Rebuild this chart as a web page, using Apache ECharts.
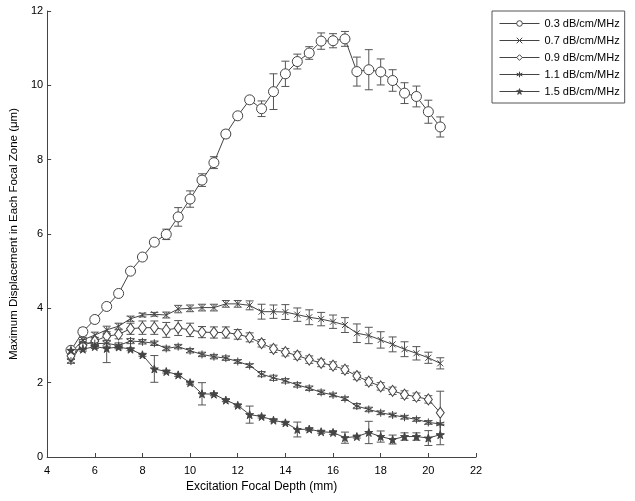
<!DOCTYPE html>
<html>
<head>
<meta charset="utf-8">
<script src="https://cdn.jsdelivr.net/npm/echarts@6/dist/echarts.min.js"></script>
<style>
html,body{margin:0;padding:0;background:#fff;}
#c{width:635px;height:501px;}
</style>
</head>
<body>
<div id="c"></div>
<script>
const depths = [5,5.5,6,6.5,7,7.5,8,8.5,9,9.5,10,10.5,11,11.5,12,12.5,13,13.5,14,14.5,15,15.5,16,16.5,17,17.5,18,18.5,19,19.5,20,20.5];

const seriesNames = ['0.3 dB/cm/MHz','0.7 dB/cm/MHz','0.9 dB/cm/MHz','1.1 dB/cm/MHz','1.5 dB/cm/MHz'];

const att03 = [2.87,3.37,3.70,4.05,4.40,5.00,5.38,5.78,5.99,6.46,6.94,7.45,7.92,8.69,9.18,9.61,9.37,9.83,10.31,10.64,10.87,11.19,11.20,11.25,10.37,10.42,10.36,10.13,9.79,9.70,9.29,8.88];
const att03Err = [0.08,0.1,0.08,0.06,0.06,0.06,0.06,0.08,0.14,0.25,0.22,0.17,0.16,0.1,0.07,0.08,0.21,0.48,0.34,0.2,0.17,0.22,0.19,0.2,0.39,0.54,0.35,0.29,0.28,0.28,0.31,0.27];

const att07 = [2.80,3.15,3.28,3.42,3.52,3.72,3.82,3.84,3.82,3.98,4.00,4.02,4.02,4.12,4.12,4.08,3.91,3.91,3.90,3.83,3.76,3.71,3.64,3.55,3.33,3.27,3.15,3.03,2.90,2.79,2.67,2.52];
const att07Err = [0.05,0.07,0.08,0.1,0.08,0.07,0.05,0.05,0.08,0.1,0.09,0.09,0.09,0.09,0.09,0.12,0.2,0.18,0.2,0.18,0.2,0.18,0.18,0.2,0.25,0.22,0.22,0.2,0.2,0.18,0.15,0.15];

const att09 = [2.72,3.00,3.12,3.25,3.30,3.45,3.48,3.48,3.42,3.47,3.42,3.36,3.35,3.35,3.30,3.22,3.06,2.91,2.82,2.73,2.62,2.53,2.46,2.35,2.18,2.03,1.90,1.78,1.68,1.62,1.55,1.19];
const att09Err = [0.08,0.1,0.1,0.12,0.12,0.15,0.18,0.18,0.2,0.2,0.18,0.15,0.15,0.15,0.13,0.12,0.1,0.1,0.1,0.1,0.1,0.1,0.1,0.1,0.1,0.1,0.1,0.1,0.1,0.1,0.1,0.58];

const att11 = [2.58,3.08,3.05,3.06,3.00,3.12,3.10,3.06,2.92,2.97,2.86,2.76,2.70,2.66,2.57,2.46,2.23,2.13,2.05,1.94,1.85,1.74,1.67,1.57,1.37,1.28,1.19,1.13,1.07,1.01,0.93,0.89];
const att11Err = [0.06,0.08,0.08,0.08,0.07,0.07,0.06,0.06,0.06,0.06,0.06,0.06,0.06,0.06,0.05,0.05,0.07,0.07,0.06,0.06,0.06,0.06,0.05,0.05,0.07,0.06,0.05,0.05,0.05,0.05,0.05,0.03];

const att15 = [2.87,2.90,2.97,2.92,2.96,2.90,2.75,2.37,2.30,2.21,2.00,1.70,1.69,1.53,1.39,1.14,1.09,0.99,0.92,0.74,0.75,0.68,0.66,0.52,0.55,0.66,0.55,0.47,0.55,0.55,0.51,0.60];
const att15Err = [0.05,0.05,0.05,0.38,0.05,0.04,0.04,0.36,0.04,0.04,0.04,0.3,0.04,0.04,0.04,0.23,0.04,0.04,0.04,0.2,0.04,0.04,0.05,0.15,0.04,0.3,0.15,0.12,0.1,0.1,0.2,0.27];

const xTicks = [4,6,8,10,12,14,16,18,20,22];
const yTicks = [0,2,4,6,8,10,12];

const values = [att03, att07, att09, att11, att15];
const errors = [att03Err, att07Err, att09Err, att11Err, att15Err];

const symbols = [
  {symbol:'path://M10,5A5,5,0,1,1,0,5A5,5,0,1,1,10,5Z', size:10, fill:'#fff'},
  {symbol:'path://M0,0L10,10M10,0L0,10', size:6, fill:'#444'},
  {symbol:'path://M5,0L10,6L5,12L0,6Z', size:[8,11], fill:'#fff'},
  {symbol:'path://M5,0L5,10M0.7,2.5L9.3,7.5M0.7,7.5L9.3,2.5', size:8, fill:'#444'},
  {symbol:'path://M5,0L6.2,3.6L10,3.6L6.9,5.9L8.1,9.5L5,7.3L1.9,9.5L3.1,5.9L0,3.6L3.8,3.6Z', size:8, fill:'#444'}
];

const lineColor = '#444';
const series = [];

values.forEach(function(vals, i){
  const errData = depths.map(function(d, k){ return [d, vals[k], errors[i][k]]; });
  series.push({
    type:'custom',
    name: seriesNames[i] + ' err',
    z: 1,
    silent: true,
    data: errData,
    renderItem: function(params, api){
      const x = api.value(0), y = api.value(1), e = api.value(2);
      const top = api.coord([x, y + e]);
      const bot = api.coord([x, y - e]);
      const w = 4;
      const st = {stroke:'#555', lineWidth:1};
      return {
        type:'group',
        children:[
          {type:'line', shape:{x1:top[0], y1:top[1], x2:bot[0], y2:bot[1]}, style:st},
          {type:'line', shape:{x1:top[0]-w, y1:top[1], x2:top[0]+w, y2:top[1]}, style:st},
          {type:'line', shape:{x1:bot[0]-w, y1:bot[1], x2:bot[0]+w, y2:bot[1]}, style:st}
        ]
      };
    }
  });
});

values.forEach(function(vals, i){
  series.push({
    type:'line',
    name: seriesNames[i],
    z: 3,
    data: depths.map(function(d, k){ return [d, vals[k]]; }),
    symbol: symbols[i].symbol,
    symbolSize: symbols[i].size,
    showAllSymbol: true,
    lineStyle:{color:lineColor, width:1},
    itemStyle:{color:symbols[i].fill, borderColor:'#444', borderWidth:1},
    emphasis:{disabled:true},
    animation:false
  });
});

const chart = echarts.init(document.getElementById('c'), null, {renderer:'canvas'});
chart.setOption({
  animation:false,
  backgroundColor:'#fff',
  textStyle:{fontFamily:'Liberation Sans, Arial, sans-serif'},
  grid:{left:42, right:159, top:11, bottom:44, containLabel:false},
  legend:{
    data: seriesNames,
    orient:'vertical',
    left:492, top:11,
    itemWidth:40, itemHeight:7, itemGap:6,
    padding:[7,5,6,7],
    borderColor:'#555', borderWidth:1,
    lineStyle:{width:1, color:'#444'},
    itemStyle:{borderWidth:1},
    textStyle:{fontSize:11, color:'#000', fontFamily:'Liberation Sans, Arial, sans-serif'},
    selectedMode:false
  },
  xAxis:{
    type:'value', min:xTicks[0], max:xTicks[xTicks.length-1], interval:2,
    name:'Excitation Focal Depth (mm)', nameLocation:'middle', nameGap:23,
    nameTextStyle:{fontSize:12, color:'#000'},
    axisLine:{lineStyle:{color:'#444', width:1}},
    axisTick:{inside:true, length:4, lineStyle:{color:'#444'}},
    axisLabel:{fontSize:11, color:'#000', margin:8},
    splitLine:{show:false}
  },
  yAxis:{
    type:'value', min:yTicks[0], max:yTicks[yTicks.length-1], interval:2,
    name:'Maximum Displacement in Each Focal Zone (\u03bcm)', nameLocation:'middle', nameGap:22,
    nameTextStyle:{fontSize:11.5, color:'#000'},
    axisLine:{show:true, lineStyle:{color:'#444', width:1}},
    axisTick:{show:true, inside:true, length:4, lineStyle:{color:'#444'}},
    axisLabel:{fontSize:11, color:'#000', margin:4},
    splitLine:{show:false}
  },
  series: series
});
</script>
</body>
</html>
